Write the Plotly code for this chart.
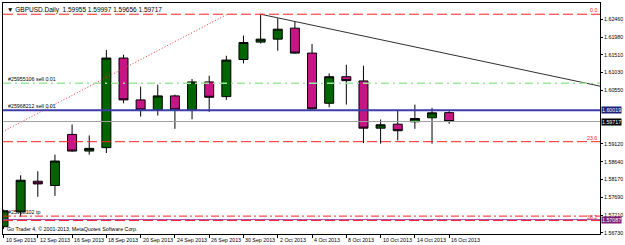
import plotly.graph_objects as go

# ---------------- data ----------------
dates = ["10 Sep 2013", "11 Sep 2013", "12 Sep 2013", "13 Sep 2013", "16 Sep 2013",
         "17 Sep 2013", "18 Sep 2013", "19 Sep 2013", "20 Sep 2013", "23 Sep 2013",
         "24 Sep 2013", "25 Sep 2013", "26 Sep 2013", "27 Sep 2013", "30 Sep 2013",
         "1 Oct 2013", "2 Oct 2013", "3 Oct 2013", "4 Oct 2013", "7 Oct 2013",
         "8 Oct 2013", "9 Oct 2013", "10 Oct 2013", "11 Oct 2013", "14 Oct 2013",
         "15 Oct 2013", "16 Oct 2013"]
opens = [1.56896, 1.57296, 1.58116, 1.58001, 1.59371, 1.58925, 1.59016, 1.61419, 1.60297,
         1.60030, 1.60404, 1.60030, 1.60778, 1.60385, 1.61381, 1.61846, 1.61926, 1.62220,
         1.61552, 1.60207, 1.60919, 1.60805, 1.59539, 1.59646, 1.59710, 1.59817, 1.59955]
highs = [1.57355, 1.58276, 1.58383, 1.58829, 1.59638, 1.59344, 1.61632, 1.61507, 1.60652,
         1.60706, 1.60439, 1.60858, 1.60946, 1.61480, 1.62022, 1.62594, 1.62487, 1.62396,
         1.61793, 1.61008, 1.61240, 1.61213, 1.59771, 1.60012, 1.60172, 1.60084, 1.59997]
lows = [1.56834, 1.57163, 1.57697, 1.57723, 1.58904, 1.58829, 1.58872, 1.60207, 1.59851,
        1.59878, 1.59523, 1.59779, 1.59977, 1.60297, 1.61275, 1.61809, 1.61614, 1.61533,
        1.60012, 1.60100, 1.60172, 1.59139, 1.59123, 1.59211, 1.59523, 1.59123, 1.59656]
closes = [1.57323, 1.58143, 1.58044, 1.58658, 1.58925, 1.58997, 1.61419, 1.60297, 1.60030,
          1.60404, 1.60030, 1.60778, 1.60367, 1.61365, 1.61835, 1.61926, 1.62193, 1.61552,
          1.60057, 1.60919, 1.60813, 1.59539, 1.59630, 1.59470, 1.59798, 1.59950, 1.59717]

# 1.60070 and 1.59590 are hidden behind the price boxes in the reference
price_ticks = [1.62460, 1.61980, 1.61510, 1.61030, 1.60550,
               1.59120, 1.58640, 1.58170, 1.57690, 1.57210, 1.56730]

fib_labels = ["0.0", "23.6", "38.2"]
fib_prices = [1.62594, 1.59176, 1.57061]

order_labels = ["#25955106 sell 0.01", "#25968212 sell 0.01", "#25968102 tp"]
order_prices = [1.60741, 1.60019, 1.57181]

purple_price = 1.57087
bid_price = 1.59717

red_trend_x = [-1, 13.06]
red_trend_y = [1.59216, 1.62594]
black_trend_x = [15, 40]
black_trend_y = [1.62594, 1.60159]

title_text = "GBPUSD.Daily  1.59955 1.59997 1.59656 1.59717"
copyright_text = "Go Trader 4, © 2001-2013, MetaQuotes Software Corp."

# ---------------- figure ----------------
FONT = "Liberation Sans, Arial, sans-serif"
x = list(range(len(dates)))
xr = [-0.03, 34.8]
yr = [1.56701, 1.62895]

fig = go.Figure()
fig.add_trace(go.Candlestick(
    x=x, open=opens, high=highs, low=lows, close=closes,
    increasing=dict(fillcolor="#006400", line=dict(color="#000000", width=1)),
    decreasing=dict(fillcolor="#C71585", line=dict(color="#000000", width=1)),
    whiskerwidth=0, showlegend=False, hoverinfo="skip"))

fig.add_trace(go.Scatter(x=red_trend_x, y=red_trend_y, mode="lines",
                         line=dict(color="#FF3030", width=1, dash="1px,2px"),
                         showlegend=False, hoverinfo="skip"))
fig.add_trace(go.Scatter(x=black_trend_x, y=black_trend_y, mode="lines",
                         line=dict(color="#303030", width=1),
                         showlegend=False, hoverinfo="skip"))

shapes = []
def hline(p, color, width, dash):
    shapes.append(dict(type="line", xref="paper", x0=0, x1=1, yref="y", y0=p, y1=p,
                       line=dict(color=color, width=width, dash=dash), layer="above"))

for p in fib_prices:
    hline(p, "#FF2020", 1, "10px,4px")
hline(order_prices[2], "#FF2020", 1, "8px,3px,2px,3px")
hline(purple_price, "#A040A0", 1, "solid")
hline(bid_price, "#A0A0A0", 1, "solid")
hline(order_prices[0], "#9CE89C", 1.5, "8px,4px,2px,4px")
hline(order_prices[1], "#3C3CAA", 2, "solid")

ann = []
small = dict(family=FONT, size=5.3, color="#000000")
# date labels
for i in range(0, len(dates), 2):
    ann.append(dict(x=i, xref="x", y=0, yref="paper", yanchor="top", xanchor="left",
                    text=dates[i], showarrow=False, xshift=0, yshift=-1,
                    font=small))
# order labels
for lab, p in zip(order_labels, order_prices):
    ann.append(dict(x=0, xref="paper", y=p, yref="y", yanchor="bottom", xanchor="left",
                    text=lab, showarrow=False, xshift=3, yshift=-1, font=small))
# fib labels
for lab, p in zip(fib_labels, fib_prices):
    ann.append(dict(x=1, xref="paper", y=p, yref="y", yanchor="bottom", xanchor="right",
                    text=lab, showarrow=False, xshift=-1, yshift=-1,
                    font=dict(family=FONT, size=5.3, color="#FF2020")))
# price boxes on the axis
for p, bg in [(order_prices[1], "#20207A"), (bid_price, "#000000"), (purple_price, "#7A1E7A")]:
    ann.append(dict(x=1, xref="paper", y=p, yref="y", yanchor="middle", xanchor="left",
                    text=f"{p:.5f}", showarrow=False, xshift=1, bgcolor=bg, borderpad=0,
                    font=dict(family=FONT, size=5.3, color="#FFFFFF")))
# title & copyright
ann.append(dict(x=0, xref="paper", y=1, yref="paper", yanchor="top", xanchor="left",
                text="▼ " + title_text, showarrow=False, xshift=2, yshift=-1,
                font=dict(family=FONT, size=6.5, color="#000000")))
ann.append(dict(x=0, xref="paper", y=0, yref="paper", yanchor="bottom", xanchor="left",
                text=copyright_text, showarrow=False, xshift=2, yshift=0, font=small))

fig.update_layout(
    width=625, height=245,
    margin=dict(l=2, r=23, t=2, b=11, pad=0),
    paper_bgcolor="#FFFFFF", plot_bgcolor="#FFFFFF",
    boxgap=0.25,
    shapes=shapes, annotations=ann,
    showlegend=False,
    xaxis=dict(range=xr, rangeslider=dict(visible=False), showgrid=False, zeroline=False,
               showline=True, linecolor="#000000", linewidth=1, mirror=True,
               tickvals=list(range(0, len(dates), 2)), showticklabels=False,
               ticks="outside", ticklen=3, tickcolor="#000000"),
    yaxis=dict(range=yr, side="right", showgrid=False, zeroline=False,
               showline=True, linecolor="#000000", linewidth=1, mirror=True,
               tickvals=price_ticks, ticktext=[f"{v:.5f}" for v in price_ticks],
               ticks="outside", ticklen=2, tickcolor="#000000",
               tickfont=dict(family=FONT, size=5.3, color="#000000")),
)

fig.write_html("out.html")
